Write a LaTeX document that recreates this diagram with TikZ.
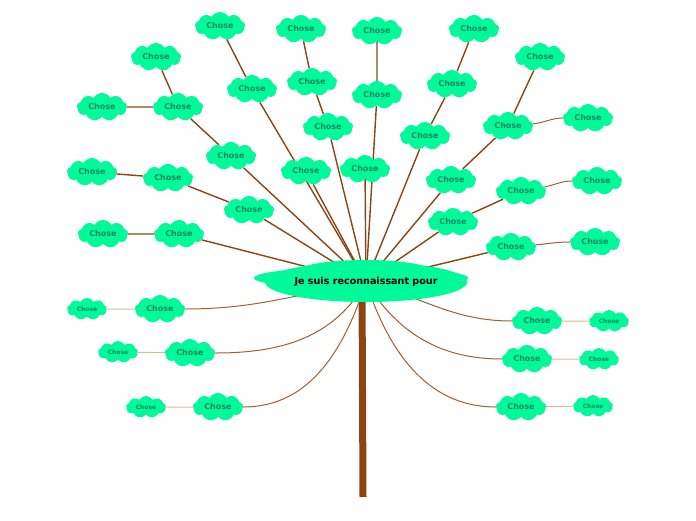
\documentclass[tikz,border=0pt]{standalone}
\usepackage{fontspec}
\setmainfont{DejaVu Sans}
\usepackage{tikz}
\usetikzlibrary{
    shapes.symbols,
    shapes.geometric,
    backgrounds
}
\usepackage{xcolor}
\definecolor{leafgreen}{RGB}{0,250,154}
\definecolor{leaftext}{RGB}{28,135,92}
\definecolor{bark}{RGB}{139,69,19}
\definecolor{twigbrown}{RGB}{160,95,55}
\definecolor{tan}{RGB}{215,185,160}

\begin{document}
\begin{tikzpicture}[
            x=1pt,
            y=-1pt,
            hub/.style={
                ellipse,
                fill=leafgreen,
                draw=none,
                minimum width=188pt,
                minimum height=40pt,
                inner sep=0pt,
                font=\fontsize{9.6}{11}\selectfont\bfseries
            },
            thing/.style={
                cloud,
                cloud puffs=9,
                cloud puff arc=120,
                cloud ignores aspect,
                fill=leafgreen,
                draw=none,
                minimum width=50pt,
                minimum height=28pt,
                inner sep=0pt,
                text=leaftext,
                font=\fontsize{8}{9}\selectfont\bfseries
            },
            smallthing/.style={
                thing,
                minimum width=40pt,
                minimum height=22pt,
                font=\fontsize{6}{7}\selectfont\bfseries
            },
            branch/.style={
                draw=bark,
                line width=1.4pt
            },
            twig/.style={
                draw=twigbrown,
                line width=1pt
            },
            sprig/.style={
                draw=tan,
                line width=1pt
            },
            trunk/.style={
                draw=bark,
                line width=7pt
            }
            ]

            \useasboundingbox (0,0) rectangle (696,520);

            \fill[leafgreen] (361,278) ellipse [x radius=107pt, y radius=11pt];
            \fill[leafgreen] (365,271) ellipse [x radius=66pt, y radius=11pt];
            \node[hub] (grateful) at (366,282) {Je suis reconnaissant pour};
            \coordinate (crown) at (362,285);
            \coordinate (root) at (363,497);

            \node[thing] (ul1) at (249,210) {Chose};
            \node[thing] (ul1b) at (168,178) {Chose};
            \node[thing] (ul1c) at (92,172) {Chose};
            \node[thing] (ul2) at (179,234) {Chose};
            \node[thing] (ul2b) at (103,234) {Chose};
            \node[thing] (ul3) at (231,156) {Chose};
            \node[thing] (ul3b) at (178,107) {Chose};
            \node[thing] (ul3c) at (102,107) {Chose};
            \node[thing] (ul3d) at (156,57) {Chose};
            \node[thing] (ul4) at (252,89) {Chose};
            \node[thing] (ul4b) at (220,26) {Chose};

            \node[thing] (um1) at (306,171) {Chose};
            \node[thing] (um2) at (328,127) {Chose};
            \node[thing] (um2b) at (312,82) {Chose};
            \node[thing] (um2c) at (301,29) {Chose};
            \node[thing] (um3) at (365,169) {Chose};
            \node[thing] (um4) at (377,95) {Chose};
            \node[thing] (um4b) at (377,31) {Chose};

            \node[thing] (ur1) at (425,136) {Chose};
            \node[thing] (ur1b) at (452,84) {Chose};
            \node[thing] (ur1c) at (474,29) {Chose};
            \node[thing] (ur2) at (451,180) {Chose};
            \node[thing] (ur2b) at (508,126) {Chose};
            \node[thing] (ur2c) at (540,57) {Chose};
            \node[thing] (ur2d) at (588,118) {Chose};
            \node[thing] (ur3) at (453,222) {Chose};
            \node[thing] (ur3b) at (521,191) {Chose};
            \node[thing] (ur3c) at (597,181) {Chose};
            \node[thing] (ur4) at (511,247) {Chose};
            \node[thing] (ur4b) at (595,242) {Chose};

            \node[thing] (ll1) at (160,309) {Chose};
            \node[smallthing] (ll1b) at (87,309) {Chose};
            \node[thing] (ll2) at (190,353) {Chose};
            \node[smallthing] (ll2b) at (118,352) {Chose};
            \node[thing] (ll3) at (218,407) {Chose};
            \node[smallthing] (ll3b) at (146,407) {Chose};

            \node[thing] (lr1) at (537,321) {Chose};
            \node[smallthing] (lr1b) at (609,321) {Chose};
            \node[thing] (lr2) at (527,359) {Chose};
            \node[smallthing] (lr2b) at (599,359) {Chose};
            \node[thing] (lr3) at (521,407) {Chose};
            \node[smallthing] (lr3b) at (593,406) {Chose};

            \begin{pgfonlayer}{background}
                \draw[trunk] (crown) -- (root);

                \draw[branch] (ul1c) -- (ul1b) -- (ul1) -- (grateful.center);
                \draw[branch] (ul2b) -- (ul2) -- (grateful.center);
                \draw[branch] (ul3c) -- (ul3b);
                \draw[branch] (ul3d) -- (ul3b) -- (ul3) -- (grateful.center);
                \draw[branch] (ul4b) -- (ul4) -- (grateful.center);

                \draw[branch] (um1) -- (grateful.center);
                \draw[branch] (um2c) -- (um2b) -- (um2) -- (grateful.center);
                \draw[branch] (um3) -- (grateful.center);
                \draw[branch] (um4b) -- (um4) -- (grateful.center);

                \draw[branch] (ur1c) -- (ur1b) -- (ur1) -- (grateful.center);
                \draw[branch] (ur2c) -- (ur2b) -- (ur2) -- (grateful.center);
                \draw[branch] (ur3b) -- (ur3) -- (grateful.center);
                \draw[branch] (ur4) -- (grateful.center);

                \draw[twig] (ur2b) to[out=5,in=180] (ur2d);
                \draw[twig] (ur3b) to[out=10,in=180] (ur3c);
                \draw[twig] (ur4) to[out=5,in=180] (ur4b);

                \draw[twig] (grateful.center) to[out=190,in=0] (ll1);
                \draw[twig] (grateful.center) to[out=240,in=0] (ll2);
                \draw[twig] (grateful.center) to[out=252,in=0] (ll3);
                \draw[twig] (grateful.center) to[out=-15,in=180] (lr1);
                \draw[twig] (grateful.center) to[out=-58,in=180] (lr2);
                \draw[twig] (grateful.center) to[out=-72,in=180] (lr3);

                \draw[sprig] (ll1) -- (ll1b);
                \draw[sprig] (ll2) -- (ll2b);
                \draw[sprig] (ll3) -- (ll3b);
                \draw[sprig] (lr1) -- (lr1b);
                \draw[sprig] (lr2) -- (lr2b);
                \draw[sprig] (lr3) -- (lr3b);
            \end{pgfonlayer}

        \end{tikzpicture}
\end{document}
